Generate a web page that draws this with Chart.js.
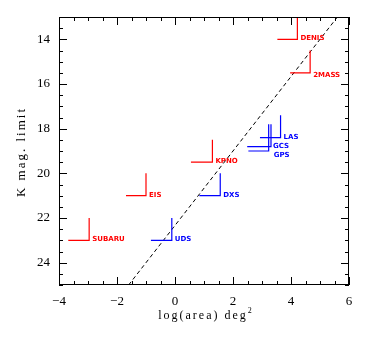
<!DOCTYPE html>
<html lang="en">
<head>
    <meta charset="UTF-8">
    <title>K mag limit vs survey area</title>
    <script src="https://cdn.jsdelivr.net/npm/chart.js@4.4.0/dist/chart.umd.min.js"></script>
    <style>
        body { margin: 0; background: #fff; }
        canvas { display: block; }
    </style>
</head>
<body>
<canvas id="myChart" width="377" height="348"></canvas>

<script>
    // survey boxes: horizontal bar at the K limit, vertical bar one mag up
    var surveys = ['DENIS', '2MASS', 'LAS', 'GCS', 'GPS', 'KPNO', 'DXS', 'EIS', 'SUBARU', 'UDS'];
    var project = ['other', 'other', 'UKIDSS', 'UKIDSS', 'UKIDSS', 'other', 'UKIDSS', 'other', 'other', 'UKIDSS'];
    var logAreaMin = [3.53, 3.97, 2.93, 2.49, 2.53, 0.55, 0.84, -1.69, -3.68, -0.83];
    var logAreaMax = [4.22, 4.66, 3.64, 3.31, 3.23, 1.29, 1.56, -1.00, -2.96, -0.11];
    var kLimit = [14.0, 15.5, 18.4, 18.8, 19.0, 19.5, 21.0, 21.0, 23.0, 23.0];
    var kBright = [13.0, 14.5, 17.4, 17.8, 17.8, 18.5, 20.0, 20.0, 22.0, 22.0];

    // dashed reference line end points
    var lineX = [-1.6, 5.6];
    var lineK = [25.0, 13.0];

    var xTicks = [-4, -2, 0, 2, 4, 6];
    var yTicks = [14, 16, 18, 20, 22, 24];

    var colours = { UKIDSS: '#0000ff', other: '#ff0000' };
    // pixel nudges for a few labels (baseline sits on the K-limit bar otherwise)
    var labelNudge = { '2MASS': [0, 3], 'GCS': [-1, 0], 'GPS': [2, 5] };

    var datasets = [];
    surveys.forEach(function (name, i) {
        datasets.push({
            label: name,
            data: [
                { x: logAreaMin[i], y: kLimit[i] },
                { x: logAreaMax[i], y: kLimit[i] },
                { x: logAreaMax[i], y: kBright[i] }
            ],
            showLine: true,
            borderColor: colours[project[i]],
            borderWidth: 1.2,
            pointRadius: 0,
            fill: false
        });
    });
    datasets.push({
        label: 'limit',
        data: lineX.map(function (x, i) { return { x: x, y: lineK[i] }; }),
        showLine: true,
        borderColor: '#000',
        borderWidth: 1,
        borderDash: [4, 3],
        pointRadius: 0
    });

    var serif = '"Liberation Serif", "Times New Roman", serif';

    var framePlugin = {
        id: 'frame',
        afterDraw: function (chart) {
            var c = chart.ctx, a = chart.chartArea;
            var xs = chart.scales.x, ys = chart.scales.y;
            c.save();
            c.strokeStyle = '#000';
            c.lineWidth = 1;
            c.strokeRect(a.left + 0.5, a.top + 0.5, a.right - a.left - 1, a.bottom - a.top - 1);

            c.beginPath();
            // x ticks, top and bottom
            for (var v = -4; v <= 6.001; v += 0.5) {
                var px = Math.round(xs.getPixelForValue(v)) + 0.5;
                var len = (Math.abs(v % 2) < 0.001) ? 8 : 4;
                c.moveTo(px, a.bottom); c.lineTo(px, a.bottom - len);
                c.moveTo(px, a.top); c.lineTo(px, a.top + len);
            }
            // y ticks, left and right
            for (var k = 13; k <= 25.001; k += 0.5) {
                var py = Math.round(ys.getPixelForValue(k)) + 0.5;
                var l2 = (Math.abs(k % 2) < 0.001) ? 8 : 4;
                c.moveTo(a.left, py); c.lineTo(a.left + l2, py);
                c.moveTo(a.right, py); c.lineTo(a.right - l2, py);
            }
            c.stroke();

            // survey names
            c.font = 'bold 7px "DejaVu Sans", sans-serif';
            c.textBaseline = 'alphabetic';
            c.textAlign = 'left';
            surveys.forEach(function (name, i) {
                var n = labelNudge[name] || [0, 0];
                c.fillStyle = colours[project[i]];
                c.fillText(name,
                    xs.getPixelForValue(logAreaMax[i]) + 3 + n[0],
                    ys.getPixelForValue(kLimit[i]) + 1 + n[1]);
            });

            // axis titles
            c.fillStyle = '#000';
            c.font = '12px ' + serif;
            c.letterSpacing = '2px';
            c.textAlign = 'center';
            c.fillText('log(area) deg', 203, 319);
            var w = c.measureText('log(area) deg').width;
            c.font = '8px ' + serif;
            c.fillText('2', 203 + w / 2 + 3, 313);

            c.font = '13px ' + serif;
            c.letterSpacing = '2px';
            c.translate(25, 152);
            c.rotate(-Math.PI / 2);
            c.fillText('K mag. limit', 0, 0);
            c.restore();
        }
    };

    var ctx = document.getElementById('myChart').getContext('2d');
    var chart = new Chart(ctx, {
        type: 'scatter',
        data: { datasets: datasets },
        options: {
            responsive: false,
            animation: false,
            events: [],
            layout: { padding: { top: 17, right: 28, left: 0, bottom: 0 } },
            plugins: { legend: { display: false }, tooltip: { enabled: false } },
            scales: {
                x: {
                    type: 'linear',
                    min: -4,
                    max: 6,
                    grid: { display: false, drawTicks: false },
                    border: { display: false },
                    afterBuildTicks: function (s) { s.ticks = xTicks.map(function (v) { return { value: v }; }); },
                    afterFit: function (s) { s.height = 63; },
                    ticks: {
                        padding: 9,
                        color: '#000',
                        maxRotation: 0,
                        font: { family: serif, size: 13 },
                        callback: function (v) { return v < 0 ? '\u2212' + Math.abs(v) : '' + v; }
                    }
                },
                y: {
                    type: 'linear',
                    reverse: true,
                    min: 13,
                    max: 25,
                    grid: { display: false, drawTicks: false },
                    border: { display: false },
                    afterBuildTicks: function (s) { s.ticks = yTicks.map(function (v) { return { value: v }; }); },
                    afterFit: function (s) { s.width = 59; },
                    ticks: {
                        padding: 9,
                        color: '#000',
                        font: { family: serif, size: 13 }
                    }
                }
            }
        },
        plugins: [framePlugin]
    });
</script>
</body>
</html>
